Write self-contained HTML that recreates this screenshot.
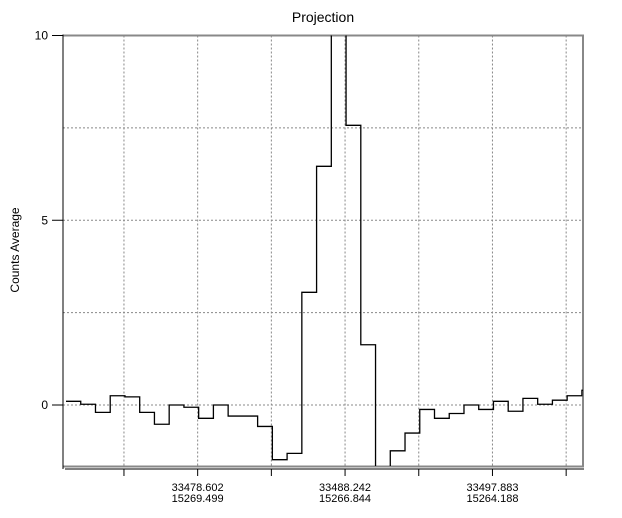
<!DOCTYPE html>
<html><head><meta charset="utf-8"><style>
body{margin:0;background:#fff;width:622px;height:518px;overflow:hidden}
svg{display:block;font-family:"Liberation Sans",sans-serif}
</style></head><body>
<svg id="chart" width="622" height="518">
<text x="323" y="22" font-size="14" text-anchor="middle">Projection</text>
<text transform="translate(19,250) rotate(-90)" font-size="12" text-anchor="middle">Counts Average</text>
<g id="grid"></g>
<g id="frame"></g>
<g id="series"></g>
<g id="axes"></g>
</svg>
<script>
const values=[0.1,0.02,-0.2,0.25,0.22,-0.2,-0.52,0.0,-0.06,-0.36,0.0,-0.3,-0.3,-0.58,-1.48,-1.31,3.05,6.46,12,7.57,1.63,-3,-1.24,-0.76,-0.12,-0.36,-0.23,0.0,-0.12,0.1,-0.17,0.18,0.02,0.13,0.25,0.4];
const yTicks=[0,5,10];
const yGrid=[0,2.5,5,7.5,10];
const xLabels1=["33478.602","33488.242","33497.883"];
const xLabels2=["15269.499","15266.844","15264.188"];
const NS="http://www.w3.org/2000/svg";
const L=63,R=583,T=35.5,B=466;
const binStart=66,binW=14.74;
const y=v=>405-v*36.95;
const xb=i=>binStart+i*binW;
function mk(tag,attrs,parent,txt){const e=document.createElementNS(NS,tag);for(const k in attrs)e.setAttribute(k,attrs[k]);if(txt!==undefined)e.textContent=txt;parent.appendChild(e);return e;}
const grid=document.getElementById('grid'),frame=document.getElementById('frame'),series=document.getElementById('series'),axes=document.getElementById('axes');
yGrid.forEach(v=>{const l=mk('line',{x1:L,x2:R,y1:y(v),y2:y(v),stroke:'#888','stroke-dasharray':'2,2','stroke-width':1},grid);

});
// vertical gridlines every 5 bins starting at bin 4
for(let k=0;k<7;k++){const gx=xb(4+5*k)-1;const l=mk('line',{x1:gx,x2:gx,y1:T,y2:B,stroke:'#888','stroke-dasharray':'2,2'},grid);

}
mk('line',{x1:L,x2:R+1,y1:T,y2:T,stroke:'#888','stroke-width':2},frame);
mk('line',{x1:R,x2:R,y1:T,y2:B,stroke:'#888','stroke-width':2},frame);
mk('line',{x1:L,x2:R+1,y1:B+0.5,y2:B+0.5,stroke:'#888','stroke-width':2},frame);
// step path
const clip=mk('clipPath',{id:'pc'},series);mk('rect',{x:L,y:T,width:R-L,height:B-T},clip);
let d='';values.forEach((v,i)=>{const x0=xb(i),x1=Math.min(xb(i+1),R);if(x0>=R+0.1)return;d+=(i===0?'M':'L')+x0+','+y(v)+'L'+x1+','+y(v);});
const p=mk('path',{d:d,fill:'none',stroke:'#000','stroke-width':1.3,'clip-path':'url(#pc)'},series);


// axes
mk('line',{x1:L,x2:L,y1:T-1,y2:469,stroke:'#000'},axes);
mk('line',{x1:65,x2:R+1,y1:469,y2:469,stroke:'#000'},axes);
yTicks.forEach(v=>{mk('line',{x1:52,x2:L,y1:y(v),y2:y(v),stroke:'#000'},axes);
const t=mk('text',{x:48,y:y(v)+4,'font-size':12,'text-anchor':'end'},axes,String(v));

});
for(let k=0;k<7;k++){const gx=xb(4+5*k)-1;mk('line',{x1:gx,x2:gx,y1:469,y2:476,stroke:'#000'},axes);}
xLabels1.forEach((s,j)=>{const gx=xb(9+10*j)-1;
const a=mk('text',{x:gx,y:491,'font-size':11,'text-anchor':'middle'},axes,s);


const b=mk('text',{x:gx,y:502,'font-size':11,'text-anchor':'middle'},axes,xLabels2[j]);

});
</script>
</body></html>
